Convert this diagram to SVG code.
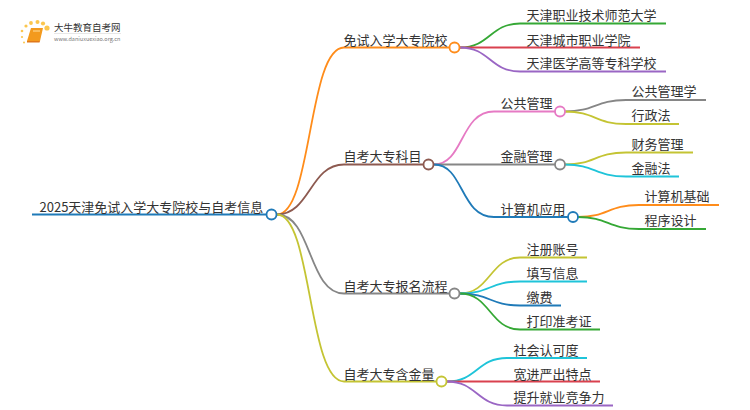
<svg xmlns="http://www.w3.org/2000/svg" width="750" height="410" viewBox="0 0 750 410">
<style>
text{font-family:"Noto Sans CJK SC","Noto Sans",sans-serif;font-size:13px;fill:#333}
.c{fill:none;stroke-width:1.8}
.n{fill:#fff;stroke-width:1.8}
.or{stroke:#ff8c1a}.br{stroke:#8d5a50}.gy{stroke:#868686}.ol{stroke:#c4c433}.bl{stroke:#1f7ab8}.gr{stroke:#35a835}.rd{stroke:#d9414e}.pu{stroke:#9a66c4}.pk{stroke:#e67ac4}.cy{stroke:#1fc4d9}
</style>
<g id="logo">
<g fill="#fbc64e"><circle cx="47" cy="28" r="2.6"/><circle cx="43" cy="23.500" r="2.1"/><circle cx="37.500" cy="22" r="2"/><circle cx="31" cy="23" r="1.900"/><circle cx="26" cy="26" r="1.600"/><circle cx="22" cy="31" r="1.300"/><circle cx="22" cy="37" r="1.100"/><circle cx="24" cy="42.500" r="1"/></g>
<path d="M31 28H43L40 41H27Z" fill="#f39a1e"/><path d="M27 41H40L39.500 42.500H27Z" fill="#e0781a"/><path d="M33 31H40" stroke="#ffe0a0" stroke-width="1"/>
<text x="54" y="31" style="font-size:9.500px">大牛教育自考网</text>
<path d="M54 33.500H121" stroke="#ddd" stroke-width=".7"/>
<text x="54" y="41" style="font-size:5.500px;fill:#777">www.daniuxuexiao.org.cn</text>
</g>
<g id="connectors">
<path class="c bl" d="M32 214.500H266"/>
<path class="c or" d="M277 214.500C312 214.500 308 47.500 344 47.500H449"/>
<path class="c br" d="M277 214.500C310 214.500 310 164.500 344 164.500H423"/>
<path class="c gy" d="M277 214.500C312 214.500 308 293.500 344 293.500H449"/>
<path class="c ol" d="M277 214.500C312 214.500 308 381.500 344 381.500H436"/>
<path class="c gr" d="M460 47.500C490 47.500 490 23.500 520 23.500H666"/>
<path class="c rd" d="M460 47.500H640"/>
<path class="c pu" d="M460 47.500C490 47.500 490 71.500 520 71.500H666"/>
<path class="c pk" d="M434 164.500C464 164.500 460 111.500 494 111.500H555"/>
<path class="c gy" d="M434 164.500H555"/>
<path class="c bl" d="M434 164.500C464 164.500 460 217 494 217H568"/>
<path class="c gy" d="M565 111.500C595 111.500 595 100 626 100H706"/>
<path class="c ol" d="M565 111.500C595 111.500 595 124 626 124H679"/>
<path class="c ol" d="M565 164.500C595 164.500 595 152.500 626 152.500H693"/>
<path class="c cy" d="M565 164.500C595 164.500 595 176.500 626 176.500H679"/>
<path class="c or" d="M578 217C608 217 608 205 639 205H719"/>
<path class="c gr" d="M578 217C608 217 608 229 639 229H706"/>
<path class="c ol" d="M460 293.500C490 293.500 490 257.500 520 257.500H587"/>
<path class="c cy" d="M460 293.500C490 293.500 490 281.500 520 281.500H587"/>
<path class="c bl" d="M460 293.500C490 293.500 490 305.500 520 305.500H561"/>
<path class="c gr" d="M460 293.500C490 293.500 490 329.500 520 329.500H600"/>
<path class="c cy" d="M447 381.500C477 381.500 477 358 507 358H587"/>
<path class="c rd" d="M447 381.500H600"/>
<path class="c pu" d="M447 381.500C477 381.500 477 405.500 507 405.500H613"/>
</g>
<g id="root"><circle class="n bl" cx="271.500" cy="214.500" r="5"/><text x="39.500" y="212">2025天津免试入学大专院校与自考信息</text></g>
<g id="n1"><circle class="n or" cx="454.500" cy="47.500" r="5"/><text x="343.500" y="44.500">免试入学大专院校</text></g>
<g id="n2"><circle class="n br" cx="428.500" cy="164.500" r="5"/><text x="343.500" y="161">自考大专科目</text></g>
<g id="n3"><circle class="n gy" cx="454.500" cy="293.500" r="5"/><text x="343.500" y="290.500">自考大专报名流程</text></g>
<g id="n4"><circle class="n ol" cx="441.500" cy="381.500" r="5"/><text x="343.500" y="378.500">自考大专含金量</text></g>
<g id="n11"><text x="526.500" y="20">天津职业技术师范大学</text></g>
<g id="n12"><text x="526.500" y="44.500">天津城市职业学院</text></g>
<g id="n13"><text x="526.500" y="68">天津医学高等专科学校</text></g>
<g id="n21"><circle class="n pk" cx="560" cy="111.500" r="5"/><text x="500.500" y="108">公共管理</text></g>
<g id="n22"><circle class="n gy" cx="560" cy="164.500" r="5"/><text x="500.500" y="161">金融管理</text></g>
<g id="n23"><circle class="n bl" cx="573" cy="217" r="5"/><text x="500.500" y="213.500">计算机应用</text></g>
<g id="n211"><text x="631.500" y="96">公共管理学</text></g>
<g id="n212"><text x="631.500" y="120">行政法</text></g>
<g id="n221"><text x="631.500" y="149">财务管理</text></g>
<g id="n222"><text x="631.500" y="173">金融法</text></g>
<g id="n231"><text x="644.500" y="201">计算机基础</text></g>
<g id="n232"><text x="644.500" y="225">程序设计</text></g>
<g id="n31"><text x="526.500" y="254">注册账号</text></g>
<g id="n32"><text x="526.500" y="278">填写信息</text></g>
<g id="n33"><text x="526.500" y="302">缴费</text></g>
<g id="n34"><text x="526.500" y="326">打印准考证</text></g>
<g id="n41"><text x="513.500" y="354.500">社会认可度</text></g>
<g id="n42"><text x="513.500" y="378.500">宽进严出特点</text></g>
<g id="n43"><text x="513.500" y="402">提升就业竞争力</text></g>
</svg>
